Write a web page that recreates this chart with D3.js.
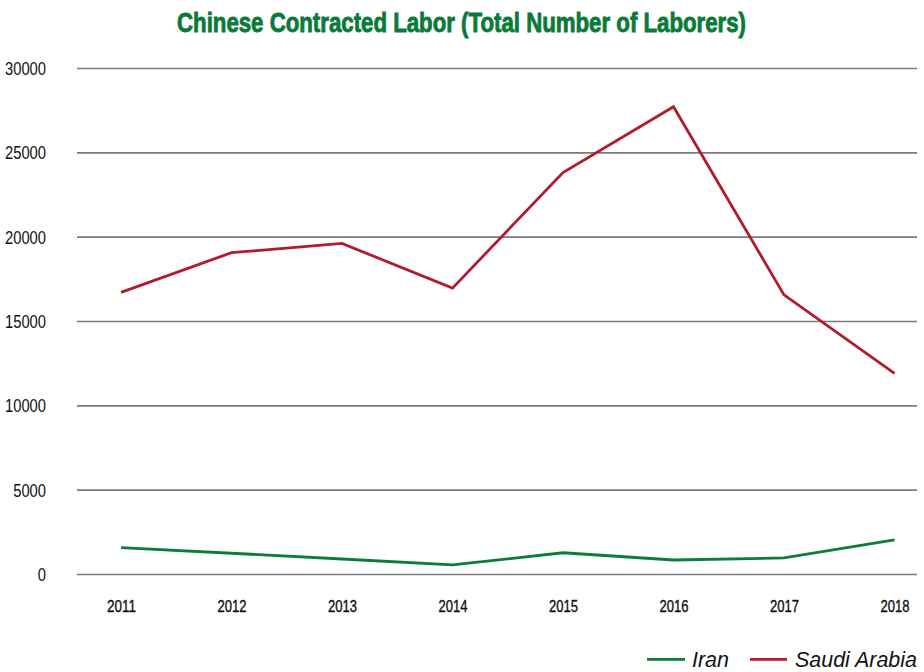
<!DOCTYPE html>
<html>
<head>
<meta charset="utf-8">
<script src="https://cdn.jsdelivr.net/npm/d3@7"></script>
<style>
  html, body { margin: 0; padding: 0; background: #ffffff; }
  svg { display: block; }
  text { font-family: "Liberation Sans Narrow", "Arial Narrow", "Liberation Sans", sans-serif; }
</style>
</head>
<body>
<div id="chart"></div>
<script>
// Chinese contracted laborers by host country, 2011–2018
const years = ["2011", "2012", "2013", "2014", "2015", "2016", "2017", "2018"];
const iran = [1560, 1230, 890, 540, 1260, 830, 950, 2030];
const saudiArabia = [16700, 19050, 19600, 16950, 23800, 27700, 16550, 11900];
const yTicks = [0, 5000, 10000, 15000, 20000, 25000, 30000];
const seriesNames = ["Iran", "Saudi Arabia"];
const seriesColors = ["#0b7d3b", "#b01c2c"];
const title = "Chinese Contracted Labor (Total Number of Laborers)";

const W = 924, H = 672;
const plot = { left: 77, right: 917, top: 68, bottom: 574 };

const svg = d3.select("#chart").append("svg")
  .attr("width", W).attr("height", H)
  .attr("viewBox", `0 0 ${W} ${H}`);

const x = d3.scalePoint().domain(years).range([121, 894.5]);
const y = d3.scaleLinear().domain([0, 30000]).range([plot.bottom, plot.top]);

// Title: heavy condensed face, squeezed to its set width
svg.append("text")
  .attr("x", 461.5).attr("y", 31.5)
  .attr("text-anchor", "middle")
  .attr("fill", "#0a7a3a")
  .attr("stroke", "#0a7a3a")
  .attr("stroke-width", 0.9)
  .attr("font-size", 28)
  .attr("font-weight", "bold")
  .attr("textLength", 569)
  .attr("lengthAdjust", "spacingAndGlyphs")
  .text(title);

// Horizontal gridlines with value labels
const yAxis = svg.append("g")
  .attr("transform", `translate(${plot.left},0)`)
  .call(d3.axisLeft(y)
    .tickValues(yTicks)
    .tickSize(-(plot.right - plot.left))
    .tickPadding(31)
    .tickFormat(d3.format("d")));
yAxis.select(".domain").remove();
yAxis.selectAll(".tick line")
  .attr("stroke", "#7a7a7a")
  .attr("stroke-width", 1.6);
yAxis.selectAll(".tick text")
  .attr("fill", "#111")
  .attr("font-size", 18)
  .attr("dy", "0.36em")
  .attr("lengthAdjust", "spacingAndGlyphs")
  .attr("textLength", function () { return this.textContent.length * 8.2; });

// Year labels
const xAxis = svg.append("g")
  .attr("transform", `translate(0,${plot.bottom})`)
  .call(d3.axisBottom(x).tickSize(0).tickPadding(0));
xAxis.select(".domain").remove();
xAxis.selectAll(".tick text")
  .attr("fill", "#111")
  .attr("stroke", "#111")
  .attr("stroke-width", 0.35)
  .attr("font-size", 16)
  .attr("y", 37.5)
  .attr("dy", 0)
  .attr("lengthAdjust", "spacingAndGlyphs")
  .attr("textLength", 29);

// Series lines
const line = d3.line()
  .x((d, i) => x(years[i]))
  .y(d => y(d));

[iran, saudiArabia].forEach((vals, k) => {
  svg.append("path")
    .datum(vals)
    .attr("fill", "none")
    .attr("stroke", seriesColors[k])
    .attr("stroke-width", 2.8)
    .attr("stroke-linejoin", "miter")
    .attr("d", line);
});

// Legend
const legendItems = [
  { x1: 647, x2: 685, tx: 692, tw: 37 },
  { x1: 750, x2: 787, tx: 795, tw: 122 }
];
legendItems.forEach((it, k) => {
  svg.append("line")
    .attr("x1", it.x1).attr("x2", it.x2)
    .attr("y1", 659.3).attr("y2", 659.3)
    .attr("stroke", seriesColors[k])
    .attr("stroke-width", 2.8);
  svg.append("text")
    .attr("x", it.tx).attr("y", 666.7)
    .attr("fill", "#111")
    .attr("font-size", 22)
    .attr("font-style", "italic")
    .attr("textLength", it.tw)
    .attr("lengthAdjust", "spacingAndGlyphs")
    .text(seriesNames[k]);
});
</script>
</body>
</html>
